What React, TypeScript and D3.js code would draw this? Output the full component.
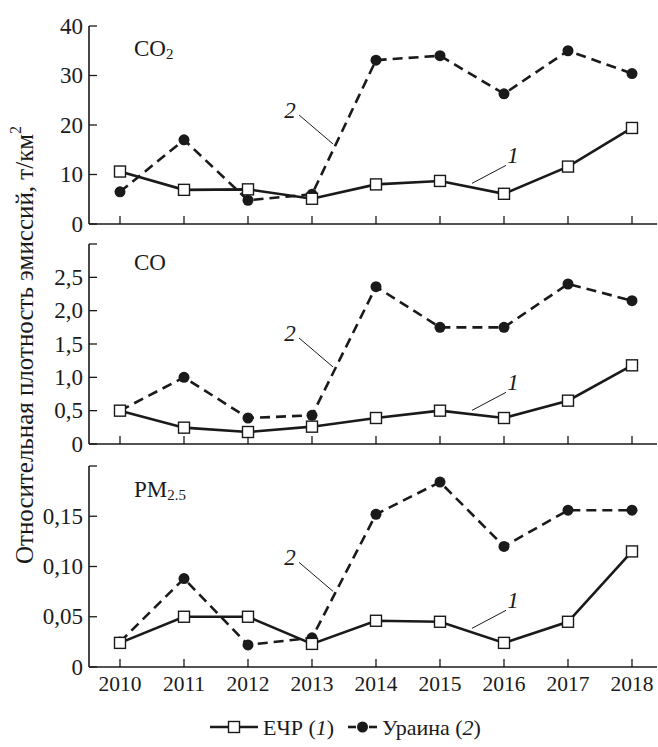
import * as d3 from "d3";

const YEARS = [2010, 2011, 2012, 2013, 2014, 2015, 2016, 2017, 2018];

// ЕЧР (1) and Украина (2) for each pollutant
const CO2_ECHR = [10.6, 6.9, 7.0, 5.1, 8.0, 8.7, 6.1, 11.6, 19.4];
const CO2_UKR = [6.5, 17.0, 4.8, 6.0, 33.1, 34.0, 26.3, 35.0, 30.4];
const CO_ECHR = [0.5, 0.245, 0.18, 0.26, 0.39, 0.5, 0.39, 0.65, 1.18];
const CO_UKR = [0.5, 1.0, 0.39, 0.43, 2.36, 1.75, 1.75, 2.4, 2.15];
const PM_ECHR = [0.024, 0.05, 0.05, 0.023, 0.046, 0.045, 0.024, 0.045, 0.115];
const PM_UKR = [0.025, 0.088, 0.022, 0.029, 0.152, 0.184, 0.12, 0.156, 0.156];

const CO2_TICKS = [0, 10, 20, 30, 40];
const CO2_TICK_LABELS = ["0", "10", "20", "30", "40"];
const CO_TICKS = [0, 0.5, 1, 1.5, 2, 2.5, 3];
const CO_TICK_LABELS = ["0", "0,5", "1,0", "1,5", "2,0", "2,5", ""];
const PM_TICKS = [0, 0.05, 0.1, 0.15, 0.2];
const PM_TICK_LABELS = ["0", "0,05", "0,10", "0,15", ""];

const WIDTH = 658;
const HEIGHT = 747;
const AXIS_LEFT = 89;
const AXIS_RIGHT = 657;
const FONT = "Liberation Serif, Times New Roman, serif";
const INK = "#1a1a1a";

const xScale = d3.scaleLinear().domain([2010, 2018]).range([120, 632]);

type PanelProps = {
  top: number;
  bottom: number;
  max: number;
  ticks: number[];
  tickLabels: string[];
  s1: number[];
  s2: number[];
  title: React.ReactNode;
  titleY: number;
};

const Panel = ({ top, bottom, max, ticks, tickLabels, s1, s2, title, titleY }: PanelProps) => {
  const yScale = d3.scaleLinear().domain([0, max]).range([bottom, top]);
  const line = d3
    .line<number>()
    .x((_, i) => xScale(YEARS[i]))
    .y((d) => yScale(d));

  // anchor points for the "1" / "2" callouts
  const p2 = {
    x: xScale(2013) + (xScale(2014) - xScale(2013)) * 0.36,
    y: yScale(s2[3]) + (yScale(s2[4]) - yScale(s2[3])) * 0.36,
  };
  const p1 = {
    x: xScale(2015) + (xScale(2016) - xScale(2015)) * 0.5,
    y: yScale(s1[5]) + (yScale(s1[6]) - yScale(s1[5])) * 0.5,
  };

  return (
    <g>
      {/* axes */}
      <line x1={AXIS_LEFT} x2={AXIS_LEFT} y1={top} y2={bottom} stroke={INK} strokeWidth={1.6} />
      <line x1={AXIS_LEFT} x2={AXIS_RIGHT} y1={bottom} y2={bottom} stroke={INK} strokeWidth={1.6} />
      {ticks.map((t, i) => (
        <g key={i}>
          <line x1={AXIS_LEFT} x2={AXIS_LEFT + 8} y1={yScale(t)} y2={yScale(t)} stroke={INK} strokeWidth={1.3} />
          <text
            x={AXIS_LEFT - 6}
            y={yScale(t)}
            textAnchor="end"
            dominantBaseline="central"
            fontSize={23}
            fontFamily={FONT}
            fill={INK}
          >
            {tickLabels[i]}
          </text>
        </g>
      ))}
      {YEARS.map((yr) => (
        <line key={yr} x1={xScale(yr)} x2={xScale(yr)} y1={bottom} y2={bottom - 8} stroke={INK} strokeWidth={1.3} />
      ))}

      {/* series 2: Украина */}
      <path d={line(s2) || ""} fill="none" stroke={INK} strokeWidth={2.6} strokeDasharray="10,6" />
      {/* series 1: ЕЧР */}
      <path d={line(s1) || ""} fill="none" stroke={INK} strokeWidth={2.6} />
      {s2.map((d, i) => (
        <circle key={i} cx={xScale(YEARS[i])} cy={yScale(d)} r={5.5} fill={INK} />
      ))}
      {s1.map((d, i) => (
        <rect
          key={i}
          x={xScale(YEARS[i]) - 5.5}
          y={yScale(d) - 5.5}
          width={11}
          height={11}
          fill="#fff"
          stroke={INK}
          strokeWidth={1.4}
        />
      ))}

      {/* callouts */}
      <text x={p2.x - 45} y={p2.y - 36} textAnchor="middle" dominantBaseline="central" fontSize={23} fontStyle="italic" fontFamily={FONT} fill={INK}>
        2
      </text>
      <line x1={p2.x - 36} y1={p2.y - 31} x2={p2.x - 2} y2={p2.y - 2} stroke={INK} strokeWidth={1} />
      <text x={p1.x + 41} y={p1.y - 32} textAnchor="middle" dominantBaseline="central" fontSize={23} fontStyle="italic" fontFamily={FONT} fill={INK}>
        1
      </text>
      <line x1={p1.x + 34} y1={p1.y - 22} x2={p1.x} y2={p1.y - 4} stroke={INK} strokeWidth={1} />

      <text x={AXIS_LEFT + 45} y={titleY} fontSize={23} fontFamily={FONT} fill={INK} dominantBaseline="central">
        {title}
      </text>
    </g>
  );
};

export default function App() {
  return (
    <svg
      width={WIDTH}
      height={HEIGHT}
      style={{ position: "absolute", left: 0, top: 0, background: "#fff" }}
    >
      <rect width={WIDTH} height={HEIGHT} fill="#fff" />
      <Panel
        top={26}
        bottom={224}
        max={40}
        ticks={CO2_TICKS}
        tickLabels={CO2_TICK_LABELS}
        s1={CO2_ECHR}
        s2={CO2_UKR}
        titleY={48}
        title={
          <>
            CO<tspan fontSize={15} dy={6}>2</tspan>
          </>
        }
      />
      <Panel
        top={244}
        bottom={444}
        max={3}
        ticks={CO_TICKS}
        tickLabels={CO_TICK_LABELS}
        s1={CO_ECHR}
        s2={CO_UKR}
        titleY={262}
        title={<>CO</>}
      />
      <Panel
        top={466}
        bottom={667}
        max={0.2}
        ticks={PM_TICKS}
        tickLabels={PM_TICK_LABELS}
        s1={PM_ECHR}
        s2={PM_UKR}
        titleY={489}
        title={
          <>
            PM<tspan fontSize={15} dy={6}>2.5</tspan>
          </>
        }
      />

      {/* x labels */}
      {YEARS.map((yr) => (
        <text
          key={yr}
          x={xScale(yr)}
          y={684}
          textAnchor="middle"
          dominantBaseline="central"
          fontSize={21.5}
          fontFamily={FONT}
          fill={INK}
        >
          {yr}
        </text>
      ))}

      {/* y label */}
      <text
        transform="translate(24,345) rotate(-90)"
        textAnchor="middle"
        dominantBaseline="central"
        fontSize={25}
        fontFamily={FONT}
        fill={INK}
      >
        Относительная плотность эмиссий, т/км<tspan fontSize={16} dy={-9}>2</tspan>
      </text>

      {/* legend */}
      <g fontFamily={FONT} fontSize={22} fill={INK}>
        <line x1={210} x2={258} y1={727} y2={727} stroke={INK} strokeWidth={2.6} />
        <rect x={228.5} y={721.5} width={11} height={11} fill="#fff" stroke={INK} strokeWidth={1.4} />
        <text x={263} y={727} dominantBaseline="central">
          ЕЧР (<tspan fontStyle="italic">1</tspan>)
        </text>
        <line x1={348} x2={356} y1={727} y2={727} stroke={INK} strokeWidth={2.6} />
        <line x1={369} x2={377} y1={727} y2={727} stroke={INK} strokeWidth={2.6} />
        <circle cx={362.5} cy={727} r={5.5} fill={INK} />
        <text x={382} y={727} dominantBaseline="central">
          Ураина (<tspan fontStyle="italic">2</tspan>)
        </text>
      </g>
    </svg>
  );
}
